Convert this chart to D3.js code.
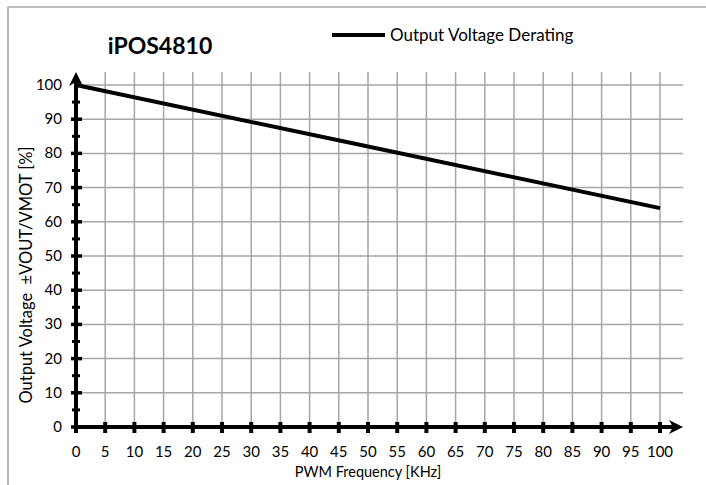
<!DOCTYPE html>
<html>
<head>
<meta charset="utf-8">
<script src="https://cdn.jsdelivr.net/npm/d3@7"></script>
<style>
  html, body { margin: 0; padding: 0; background: #fff; }
  svg { display: block; }
  text { font-family: Lato, "Open Sans", sans-serif; fill: #000; white-space: pre; }
</style>
</head>
<body>
<svg id="chart" width="706" height="485"></svg>
<script>
const title = "iPOS4810";
const seriesName = "Output Voltage Derating";
const xTitle = "PWM Frequency [KHz]";
const yTitle = "Output Voltage  \u00B1VOUT/VMOT [%]";
const freq = [0, 50, 100];
const voltage = [100, 82, 64];
const xTicks = d3.range(0, 101, 5);
const yTicks = d3.range(0, 101, 10);
const yMinorTicks = d3.range(5, 100, 10);

const svg = d3.select("#chart");
const W = 706, H = 485;

// outer frame
svg.append("rect").attr("x", 8).attr("y", 7).attr("width", W + 10).attr("height", H + 10)
  .attr("fill", "none").attr("stroke", "#a6a6a6").attr("stroke-width", 1.5);

const x = d3.scaleLinear().domain([0, 100]).range([76, 660]);
const y = d3.scaleLinear().domain([0, 100]).range([427, 85]);
const xEnd = 683, yTop = 72;

// grid
const g = svg.append("g");
g.selectAll("line.v").data(xTicks.filter(d => d > 0)).join("line")
  .attr("x1", d => x(d)).attr("x2", d => x(d)).attr("y1", yTop).attr("y2", y(0))
  .attr("stroke", "#a6a6a6").attr("stroke-width", 1.5);
g.selectAll("line.h").data(yTicks.filter(d => d > 0)).join("line")
  .attr("x1", x(0)).attr("x2", xEnd).attr("y1", d => y(d)).attr("y2", d => y(d))
  .attr("stroke", "#a6a6a6").attr("stroke-width", 1.5);

// data line
const line = d3.line().x((d, i) => x(freq[i])).y(d => y(d));
svg.append("path").datum(voltage).attr("d", line)
  .attr("fill", "none").attr("stroke", "#000").attr("stroke-width", 4);

// axes
svg.append("line").attr("x1", x(0)).attr("x2", xEnd - 6).attr("y1", y(0)).attr("y2", y(0))
  .attr("stroke", "#000").attr("stroke-width", 4);
svg.append("path").attr("d", `M${xEnd},${y(0)} L${xEnd - 14},${y(0) - 7} L${xEnd - 10},${y(0)} L${xEnd - 14},${y(0) + 7} Z`)
  .attr("fill", "#000");
svg.append("line").attr("x1", x(0)).attr("x2", x(0)).attr("y1", y(0) + 2).attr("y2", yTop + 8)
  .attr("stroke", "#000").attr("stroke-width", 4);
svg.append("path").attr("d", `M${x(0)},${yTop} L${x(0) - 7},${yTop + 14} L${x(0)},${yTop + 10} L${x(0) + 7},${yTop + 14} Z`)
  .attr("fill", "#000");

// x ticks
svg.selectAll("line.xt").data(xTicks).join("line")
  .attr("x1", d => x(d)).attr("x2", d => x(d)).attr("y1", y(0) - 5).attr("y2", y(0) + 6)
  .attr("stroke", "#000").attr("stroke-width", 4);
// y ticks
svg.selectAll("line.yt").data(yTicks.filter(d => d < 100)).join("line")
  .attr("x1", x(0) - 5).attr("x2", x(0) + 6).attr("y1", d => y(d)).attr("y2", d => y(d))
  .attr("stroke", "#000").attr("stroke-width", 3.5);
svg.selectAll("line.ym").data(yMinorTicks).join("line")
  .attr("x1", x(0) - 4).attr("x2", x(0) + 4).attr("y1", d => y(d)).attr("y2", d => y(d))
  .attr("stroke", "#000").attr("stroke-width", 3);

// tick labels
svg.selectAll("text.xl").data(xTicks).join("text")
  .attr("x", d => x(d)).attr("y", 457).attr("text-anchor", "middle")
  .style("font-size", "15px").text(d => d);
svg.selectAll("text.yl").data(yTicks).join("text")
  .attr("x", 62).attr("y", d => y(d) + 5).attr("text-anchor", "end")
  .style("font-size", "15px").text(d => d);

// axis titles
svg.append("text").attr("x", 368).attr("y", 477).attr("text-anchor", "middle")
  .style("font-size", "14.5px").text(xTitle);
svg.append("text").attr("transform", "translate(32,275) rotate(-90)")
  .attr("text-anchor", "middle").attr("xml:space", "preserve")
  .style("font-size", "16.5px").text(yTitle);

// title
svg.append("text").attr("x", 160).attr("y", 54).attr("text-anchor", "middle")
  .style("font-size", "23px").style("font-weight", "bold").text(title);

// legend
svg.append("line").attr("x1", 332).attr("x2", 385).attr("y1", 35).attr("y2", 35)
  .attr("stroke", "#000").attr("stroke-width", 4);
svg.append("text").attr("x", 390).attr("y", 41).style("font-size", "17px").text(seriesName);
</script>
</body>
</html>
